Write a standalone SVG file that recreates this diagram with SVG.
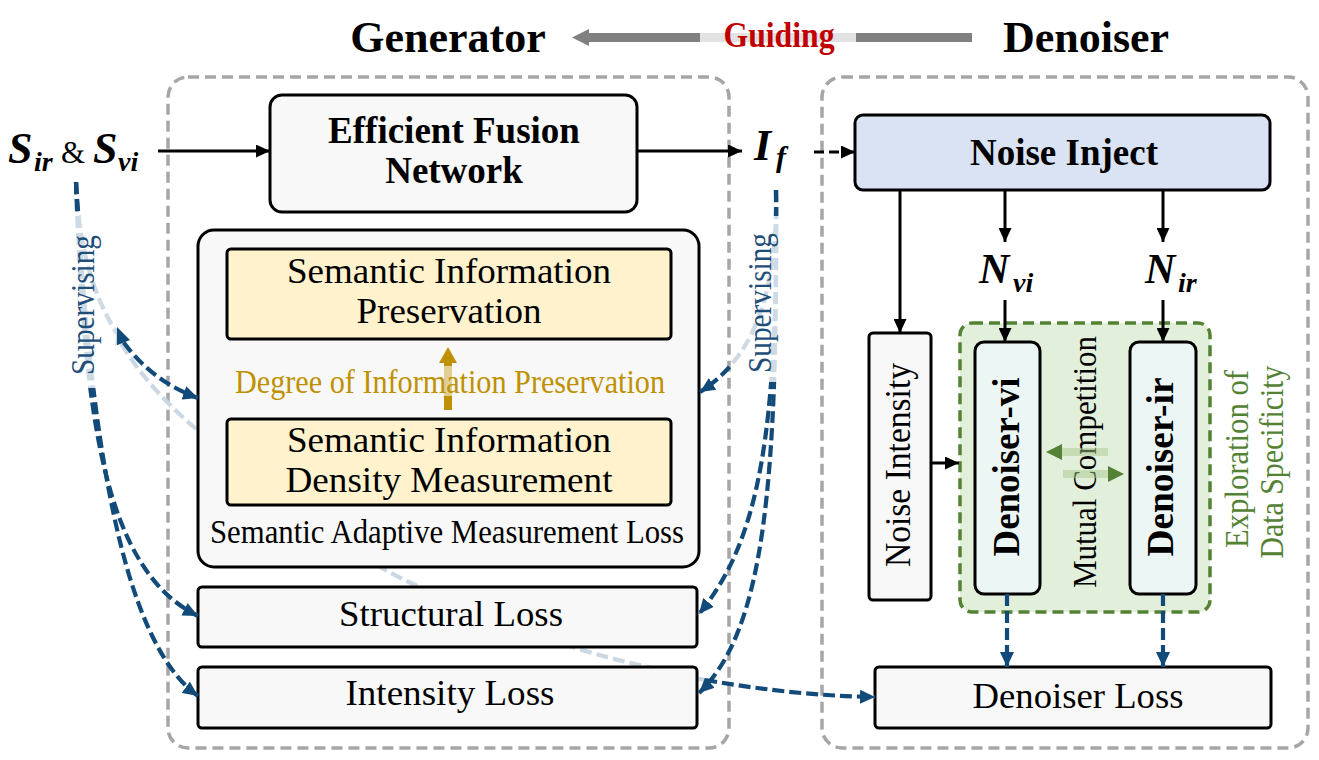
<svg xmlns="http://www.w3.org/2000/svg" width="1319" height="760" viewBox="0 0 1319 760">
<style>
text{font-family:"Liberation Serif","Times New Roman",serif;fill:#000}
.b{font-weight:bold}
.bi{font-weight:bold;font-style:italic}
.box{fill:#f8f8f8;stroke:#000;stroke-width:3}
.yel{fill:#fff2cc;stroke:#000;stroke-width:3}
.cont{fill:none;stroke:#a6a6a6;stroke-width:3.5;stroke-dasharray:11 6}
.blk{fill:none;stroke:#000;stroke-width:3}
.blue{fill:none;stroke:#124a79;stroke-width:4.2;stroke-dasharray:12 5}
.faded{fill:none;stroke:#cbd8e4;stroke-width:4.2;stroke-dasharray:12 5}
.sup{fill:#1f4e79}
.grn{fill:#548235}
</style>
<defs>
<marker id="ab" markerUnits="userSpaceOnUse" markerWidth="15" markerHeight="13" refX="14" refY="6.5" orient="auto"><path d="M0,0 L14,6.5 L0,13 z" fill="#000"/></marker>
<marker id="au" markerUnits="userSpaceOnUse" markerWidth="16" markerHeight="14" refX="15" refY="7" orient="auto"><path d="M0,0 L15,7 L0,14 z" fill="#124a79"/></marker>
</defs>
<rect width="1319" height="760" fill="#fff"/>

<!-- titles -->
<g id="title-generator"><text class="b" x="448" y="52" font-size="44" text-anchor="middle">Generator</text></g>
<g id="title-denoiser"><text class="b" x="1086" y="52" font-size="44" text-anchor="middle">Denoiser</text></g>
<g id="guiding">
<line x1="972" y1="37.5" x2="586" y2="37.5" stroke="#808080" stroke-width="9"/>
<polygon points="572,37.5 589,29 589,46" fill="#808080"/>
<rect x="700" y="33" width="156" height="9" fill="#e2e2e2"/>
<text class="b" x="779" y="47" font-size="36" text-anchor="middle" textLength="111" lengthAdjust="spacingAndGlyphs" style="fill:#c00000">Guiding</text>
</g>

<!-- containers -->
<g id="generator-container"><rect class="cont" x="168" y="77" width="561" height="671" rx="20"/></g>
<g id="denoiser-container"><rect class="cont" x="822" y="77" width="486" height="671" rx="20"/></g>

<!-- faded long connector behind boxes -->
<g id="connector-back">
<path class="faded" d="M76,182 C78,280 115,360 195,428 C260,483 330,545 411,583 C480,615 560,648 644,666 C665,671 685,676 705,680"/>
</g>

<!-- nodes -->
<g id="input-s">
<text class="bi" x="8" y="163" font-size="44">S</text>
<text class="bi" x="34" y="171" font-size="28">ir</text>
<text x="61" y="163" font-size="31">&amp;</text>
<text class="bi" x="93" y="163" font-size="44">S</text>
<text class="bi" x="118" y="171" font-size="28">vi</text>
</g>
<g id="efn">
<rect class="box" x="270" y="95" width="367" height="117" rx="12"/>
<text class="b" x="454" y="143" font-size="37" text-anchor="middle">Efficient Fusion</text>
<text class="b" x="454" y="183" font-size="37" text-anchor="middle">Network</text>
</g>
<g id="if">
<text class="bi" x="754" y="160" font-size="44">I</text>
<text class="bi" x="776" y="167" font-size="30">f</text>
</g>
<g id="semantic-loss">
<rect class="box" x="198" y="230" width="501" height="337" rx="16"/>
<text x="447" y="543" font-size="34" text-anchor="middle" textLength="474" lengthAdjust="spacingAndGlyphs">Semantic Adaptive Measurement Loss</text>
</g>
<g id="sip">
<rect class="yel" x="227" y="249" width="444" height="90" rx="4"/>
<text x="449" y="283" font-size="36" text-anchor="middle" textLength="324" lengthAdjust="spacingAndGlyphs">Semantic Information</text>
<text x="449" y="323" font-size="36" text-anchor="middle" textLength="185" lengthAdjust="spacingAndGlyphs">Preservation</text>
</g>
<g id="degree">
<rect x="444" y="362" width="8" height="48" fill="#bf9000"/>
<polygon points="448,347 439,363 457,363" fill="#bf9000"/>
<rect x="440" y="366" width="16" height="30" fill="#f8f8f8" fill-opacity="0.6"/>
<text x="450" y="393" font-size="34" text-anchor="middle" textLength="430" lengthAdjust="spacingAndGlyphs" style="fill:#bf9000">Degree of Information Preservation</text>
</g>
<g id="sidm">
<rect class="yel" x="227" y="419" width="444" height="86" rx="4"/>
<text x="449" y="452" font-size="36" text-anchor="middle" textLength="324" lengthAdjust="spacingAndGlyphs">Semantic Information</text>
<text x="449" y="492" font-size="36" text-anchor="middle" textLength="327" lengthAdjust="spacingAndGlyphs">Density Measurement</text>
</g>
<g id="structural-loss">
<rect class="box" x="198" y="587" width="499" height="60" rx="4"/>
<text x="451" y="626" font-size="36" text-anchor="middle" textLength="224" lengthAdjust="spacingAndGlyphs">Structural Loss</text>
</g>
<g id="intensity-loss">
<rect class="box" x="198" y="667" width="499" height="61" rx="4"/>
<text x="450" y="705" font-size="36" text-anchor="middle" textLength="209" lengthAdjust="spacingAndGlyphs">Intensity Loss</text>
</g>
<g id="noise-inject">
<rect x="855" y="115" width="415" height="75" rx="8" fill="#dae3f3" stroke="#000" stroke-width="3"/>
<text class="b" x="1064" y="165" font-size="37" text-anchor="middle">Noise Inject</text>
</g>
<g id="n-vi">
<text class="bi" x="979" y="283" font-size="42">N</text>
<text class="bi" x="1013" y="292" font-size="28">vi</text>
</g>
<g id="n-ir">
<text class="bi" x="1145" y="283" font-size="42">N</text>
<text class="bi" x="1178" y="292" font-size="28">ir</text>
</g>
<g id="noise-intensity">
<rect class="box" x="869" y="333" width="62" height="267" rx="4"/>
<text transform="translate(910,465) rotate(-90)" font-size="35" text-anchor="middle" textLength="204" lengthAdjust="spacingAndGlyphs">Noise Intensity</text>
</g>
<g id="data-specificity">
<rect x="960" y="323" width="250" height="289" rx="12" fill="#e2efda" stroke="#548235" stroke-width="3.5" stroke-dasharray="11 6"/>
<text class="grn" transform="translate(1248,459) rotate(-90)" font-size="34" text-anchor="middle" textLength="178" lengthAdjust="spacingAndGlyphs">Exploration of</text>
<text class="grn" transform="translate(1283,462) rotate(-90)" font-size="34" text-anchor="middle" textLength="193" lengthAdjust="spacingAndGlyphs">Data Specificity</text>
</g>
<g id="denoiser-vi">
<rect x="975" y="342" width="65" height="252" rx="9" fill="#ecf6f4" stroke="#000" stroke-width="3"/>
<text class="b" transform="translate(1019,467) rotate(-90)" font-size="38" text-anchor="middle" textLength="179" lengthAdjust="spacingAndGlyphs">Denoiser-vi</text>
</g>
<g id="denoiser-ir">
<rect x="1130" y="342" width="66" height="252" rx="9" fill="#ecf6f4" stroke="#000" stroke-width="3"/>
<text class="b" transform="translate(1173,467) rotate(-90)" font-size="38" text-anchor="middle" textLength="179" lengthAdjust="spacingAndGlyphs">Denoiser-ir</text>
</g>
<g id="mutual-competition">
<text transform="translate(1096,462) rotate(-90)" font-size="34" text-anchor="middle" textLength="252" lengthAdjust="spacingAndGlyphs">Mutual Competition</text>
<rect x="1060" y="448" width="48" height="8" fill="#a9c98f" fill-opacity="0.5"/>
<polygon points="1046,452 1062,444 1062,460" fill="#548235"/>
<rect x="1063" y="470" width="46" height="8" fill="#a9c98f" fill-opacity="0.5"/>
<polygon points="1124,474 1108,466 1108,482" fill="#548235"/>
</g>
<g id="denoiser-loss">
<rect class="box" x="875" y="667" width="396" height="61" rx="4"/>
<text x="1078" y="708" font-size="36" text-anchor="middle" textLength="211" lengthAdjust="spacingAndGlyphs">Denoiser Loss</text>
</g>

<!-- connectors -->
<g id="connectors">
<line class="blk" x1="158" y1="151" x2="270" y2="151" marker-end="url(#ab)"/>
<line class="blk" x1="637" y1="151" x2="742" y2="151" marker-end="url(#ab)"/>
<line class="blk" x1="814" y1="152" x2="855" y2="152" stroke-dasharray="10 5" marker-end="url(#ab)"/>
<line class="blk" x1="900" y1="190" x2="900" y2="333" marker-end="url(#ab)"/>
<line class="blk" x1="1005" y1="190" x2="1005" y2="242" marker-end="url(#ab)"/>
<line class="blk" x1="1163" y1="190" x2="1163" y2="242" marker-end="url(#ab)"/>
<line class="blk" x1="1005" y1="300" x2="1005" y2="342" marker-end="url(#ab)"/>
<line class="blk" x1="1163" y1="300" x2="1163" y2="342" marker-end="url(#ab)"/>
<line class="blk" x1="931" y1="463" x2="959" y2="463" marker-end="url(#ab)"/>
<line class="blue" x1="1007" y1="594" x2="1007" y2="667" marker-end="url(#au)"/>
<line class="blue" x1="1163" y1="594" x2="1163" y2="667" marker-end="url(#au)"/>
<path class="blue" d="M76,182 C80,290 120,370 198,398" marker-end="url(#au)"/>
<path class="blue" d="M76,182 C84,420 105,570 198,616" marker-end="url(#au)"/>
<path class="blue" d="M76,182 C90,430 120,640 198,696" marker-end="url(#au)"/>
<polygon points="117,327 115,346 130,340" fill="#124a79"/>
<path class="blue" d="M776,190 C778,300 750,360 700,392" marker-end="url(#au)"/>
<path class="blue" d="M776,190 C778,430 760,540 699,614" marker-end="url(#au)"/>
<path class="blue" d="M776,190 C778,480 765,630 699,693" marker-end="url(#au)"/>
<path class="blue" d="M705,680 C770,691 820,696 875,697" marker-end="url(#au)"/>
</g>

<!-- supervising labels -->
<g id="supervising-left">
<rect x="62" y="216" width="55" height="172" fill="#fff" fill-opacity="0.8"/>
<text class="sup" transform="translate(94,305) rotate(-90)" font-size="34" text-anchor="middle" textLength="140" lengthAdjust="spacingAndGlyphs">Supervising</text>
</g>
<g id="supervising-right">
<rect x="731" y="216" width="60" height="166" fill="#fff" fill-opacity="0.8"/>
<text class="sup" transform="translate(771,303) rotate(-90)" font-size="34" text-anchor="middle" textLength="140" lengthAdjust="spacingAndGlyphs">Supervising</text>
</g>
</svg>
